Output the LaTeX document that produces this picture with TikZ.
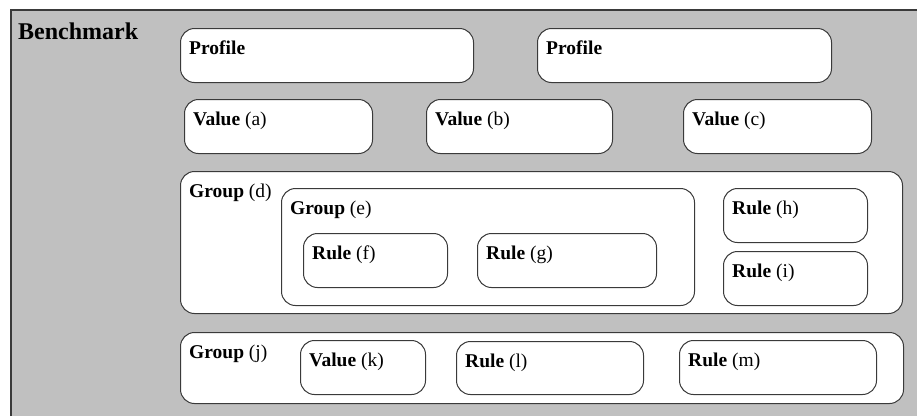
\documentclass[tikz,border=0pt]{standalone}
\usepackage{fontspec}
\setmainfont{Liberation Serif}
\definecolor{bggray}{HTML}{C0C0C0}
\definecolor{edge}{HTML}{3A3A3A}
\tikzset{
  x=1pt, y=-1pt,
  box/.style={draw=edge, line width=1pt, fill=white, rounded corners=14pt,
    inner sep=0pt, anchor=north west},
  lbl/.style={anchor=base west, inner sep=0pt, font=\fontsize{19.5}{21}\selectfont},
}
\newcommand{\mkbox}[6]{% name, x, y, w, h, label
  \node[box, minimum width=#4pt, minimum height=#5pt] (#1) at (#2,#3) {};
  \node[lbl] (#1t) at ([shift={(9,26.5)}]#1.north west) {#6};
}
\begin{document}
\begin{tikzpicture}
\useasboundingbox (0,0) rectangle (917,416);
\fill[bggray] (11,10) rectangle (917,416);
\draw[edge, line width=2pt] (11,416) -- (11,10) -- (917,10);
\node[anchor=base west, inner sep=0pt, font=\fontsize{24}{26}\selectfont\bfseries] (bench) at (18,39) {Benchmark};
% Profiles
\mkbox{p1}{180}{28}{293}{54}{\textbf{Profile}}
\mkbox{p2}{537}{28}{294}{54}{\textbf{Profile}}
% Values
\mkbox{va}{184}{99}{188}{54}{\textbf{Value} (a)}
\mkbox{vb}{426}{99}{186}{54}{\textbf{Value} (b)}
\mkbox{vc}{683}{99}{188}{54}{\textbf{Value} (c)}
% Group d
\mkbox{gd}{180}{171}{722}{142}{\textbf{Group} (d)}
\mkbox{ge}{281}{188}{413}{117}{\textbf{Group} (e)}
\mkbox{rf}{303}{233}{144}{54}{\textbf{Rule} (f)}
\mkbox{rg}{477}{233}{179}{54}{\textbf{Rule} (g)}
\mkbox{rh}{723}{188}{144}{54}{\textbf{Rule} (h)}
\mkbox{ri}{723}{251}{144}{54}{\textbf{Rule} (i)}
% Group j
\mkbox{gj}{180}{332}{723}{71}{\textbf{Group} (j)}
\mkbox{vk}{300}{340}{125}{54}{\textbf{Value} (k)}
\mkbox{rl}{456}{341}{187}{53}{\textbf{Rule} (l)}
\mkbox{rm}{679}{340}{197}{54}{\textbf{Rule} (m)}
\end{tikzpicture}
\end{document}
